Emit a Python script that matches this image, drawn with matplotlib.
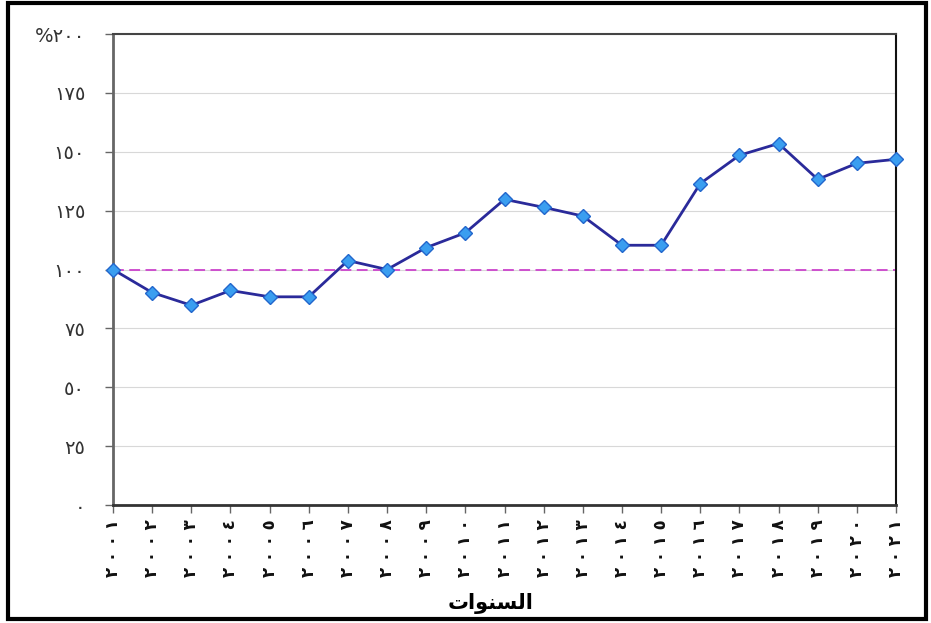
import matplotlib
matplotlib.use("Agg")
import matplotlib.pyplot as plt
from matplotlib.patches import Rectangle

years = list(range(2001, 2022))
values = [100, 90.2, 84.8, 91.1, 88.4, 88.4, 103.8, 100, 109.3, 115.6, 129.8,
          126.4, 122.7, 110.3, 110.3, 136.5, 148.5, 153.5, 138.3, 145.1, 146.8]
baseline = 100
yticks = [0, 25, 50, 75, 100, 125, 150, 175, 200]

AR = str.maketrans("0123456789", "٠١٢٣٤٥٦٧٨٩")
def ar(n):
    return str(n).translate(AR)

xlabels = [" ".join(ar(y)) for y in years]
ylabels = [ar(v) for v in yticks]
ylabels[-1] = "%" + ylabels[-1]
# "السنوات" in presentation forms, visual order
xtitle = "\uFE95\uFE8D\uFEEE\uFEE8\uFEB4\uFEDF\uFE8D"

plt.rcParams['font.family'] = ['DejaVu Sans']
fig = plt.figure(figsize=(9.31, 6.23), dpi=100)
ax = fig.add_axes([0.1214, 0.1894, 0.8410, 0.7560])

x = list(range(len(years)))
ax.plot([x[0], x[-1]], [baseline, baseline], color='#cc44cc', lw=1.3,
        linestyle=(0, (6, 3)), zorder=2)
ax.plot(x, values, color='#2a2a9a', lw=2, marker='D', markersize=7.5,
        markerfacecolor='#3a9ef0', markeredgecolor='#2266cc', markeredgewidth=1,
        zorder=3, clip_on=False)

ax.set_xlim(x[0], x[-1])
ax.set_ylim(0, 200)
ax.set_yticks(yticks)
ax.set_yticklabels(ylabels, fontsize=14, color='#333333')
ax.set_xticks(x)
ax.set_xticklabels(xlabels, rotation=90, fontsize=12, fontweight='bold', color='#111111')
ax.yaxis.grid(True, color='#d8d8d8', lw=0.8)
ax.set_axisbelow(True)
ax.tick_params(axis='y', length=6, width=1, color='#666666', pad=14)
ax.tick_params(axis='x', length=6, width=1, color='#666666', pad=4)
ax.spines['left'].set_color('#666666')
ax.spines['left'].set_linewidth(2)
ax.spines['bottom'].set_color('#333333')
ax.spines['bottom'].set_linewidth(2)
ax.spines['right'].set_color('#111111')
ax.spines['right'].set_linewidth(1.5)
ax.spines['top'].set_color('#444444')
ax.spines['top'].set_linewidth(1.5)

fig.text(0.527, 0.032, xtitle, ha='center', va='center', fontsize=15, fontweight='bold')

fig.patches.append(Rectangle((8/931, 4/623), 918/931, 616/623, transform=fig.transFigure,
                             fill=False, edgecolor='black', lw=3))

fig.savefig("out.png", dpi=100)
